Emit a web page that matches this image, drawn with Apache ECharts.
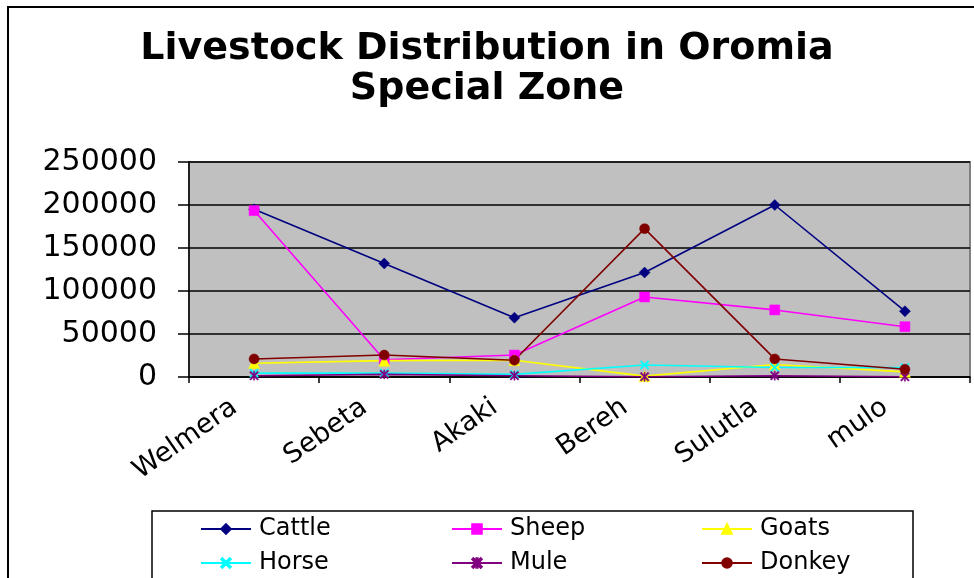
<!DOCTYPE html>
<html><head><meta charset="utf-8">
<script src="https://cdn.jsdelivr.net/npm/echarts@6/dist/echarts.min.js"></script>
<style>html,body{margin:0;padding:0;background:#fff}#c{width:974px;height:578px}</style>
</head><body><div id="c"></div>
<script>
const categories = ['Welmera', 'Sebeta', 'Akaki', 'Bereh', 'Sulutla', 'mulo'];
const cattle = [195000, 132000, 69000, 121500, 200000, 76500];
const sheep = [193500, 20000, 25500, 93000, 78000, 58500];
const goats = [16000, 19000, 19500, 1000, 14500, 6000];
const horse = [4500, 4500, 3000, 14000, 11000, 11000];
const mule = [1500, 3000, 1500, 300, 1500, 300];
const donkey = [21000, 25500, 19500, 172500, 21000, 9000];
const yTicks = [0, 50000, 100000, 150000, 200000, 250000];

const X_PATH = 'path://M0,1.2L1.2,0L5,3.8L8.8,0L10,1.2L6.2,5L10,8.8L8.8,10L5,6.2L1.2,10L0,8.8L3.8,5Z';
const STAR_PATH = 'path://M0,1.2L1.2,0L4.4,3.2L4.4,0L5.6,0L5.6,3.2L8.8,0L10,1.2L6.2,5L10,8.8L8.8,10L5.6,6.8L5.6,10L4.4,10L4.4,6.8L1.2,10L0,8.8L3.8,5Z';

const defs = [
  {name: 'Cattle', data: cattle, color: '#000080', symbol: 'diamond', size: 11},
  {name: 'Sheep', data: sheep, color: '#FF00FF', symbol: 'rect', size: 10},
  {name: 'Goats', data: goats, color: '#FFFF00', symbol: 'triangle', size: 11},
  {name: 'Horse', data: horse, color: '#00FFFF', symbol: X_PATH, size: 9},
  {name: 'Mule', data: mule, color: '#800080', symbol: STAR_PATH, size: 9},
  {name: 'Donkey', data: donkey, color: '#800000', symbol: 'circle', size: 10}
];

const font = '"DejaVu Sans", "Liberation Sans", Arial, sans-serif';
const chart = echarts.init(document.getElementById('c'), null, {renderer: 'canvas'});

const legendBase = (names, left) => ({
  data: names, orient: 'vertical', left: left, top: 516, height: 80, padding: 0,
  itemWidth: 50, itemHeight: 12, itemGap: 8,
  textStyle: {fontFamily: font, fontSize: 24, lineHeight: 26, color: '#000', padding: [0, 0, 0, 3]},
  selectedMode: false
});

chart.setOption({
  animation: false,
  backgroundColor: '#fff',
  title: {
    text: 'Livestock Distribution in Oromia\nSpecial Zone',
    left: 'center', top: 24,
    textStyle: {fontFamily: font, fontSize: 38, fontWeight: 'bold', color: '#000', lineHeight: 40}
  },
  legend: [
    legendBase(['Cattle', 'Horse'], 200),
    legendBase(['Sheep', 'Mule'], 451),
    legendBase(['Goats', 'Donkey'], 701)
  ],
  graphic: [
    {type: 'rect', shape: {x: 8, y: 7, width: 990, height: 600}, style: {fill: 'none', stroke: '#000', lineWidth: 2}, silent: true, z: 100},
    {type: 'rect', shape: {x: 152, y: 511, width: 761, height: 80}, style: {fill: 'none', stroke: '#000', lineWidth: 1.5}, silent: true, z: 100}
  ],
  grid: {
    left: 189, right: 4, top: 162, bottom: 201,
    show: true, backgroundColor: '#C0C0C0', borderColor: '#808080', borderWidth: 2
  },
  xAxis: {
    type: 'category', data: categories, boundaryGap: true,
    axisLine: {lineStyle: {color: '#000', width: 1.5}},
    axisTick: {show: true, length: 6, lineStyle: {color: '#000', width: 1.5}},
    axisLabel: {rotate: 35, fontFamily: font, fontSize: 27, color: '#000', margin: 14, interval: 0,
      padding: [0, 24, 0, 0]}
  },
  yAxis: {
    type: 'value', min: 0, max: 250000, interval: 50000,
    axisLine: {show: true, lineStyle: {color: '#000', width: 1.5}},
    axisTick: {show: true, length: 11, lineStyle: {color: '#000', width: 1.5}},
    splitLine: {lineStyle: {color: '#000', width: 1.5}},
    axisLabel: {fontFamily: font, fontSize: 30, color: '#000', margin: 32,
      formatter: v => yTicks.includes(v) ? String(v) : ''}
  },
  series: defs.map(d => ({
    name: d.name, type: 'line', data: d.data,
    symbol: d.symbol, symbolSize: d.size, showSymbol: true,
    lineStyle: {color: d.color, width: 1.6},
    itemStyle: {color: d.color, borderColor: d.color, borderWidth: 0.5},
    emphasis: {disabled: true}
  }))
});
</script></body></html>
